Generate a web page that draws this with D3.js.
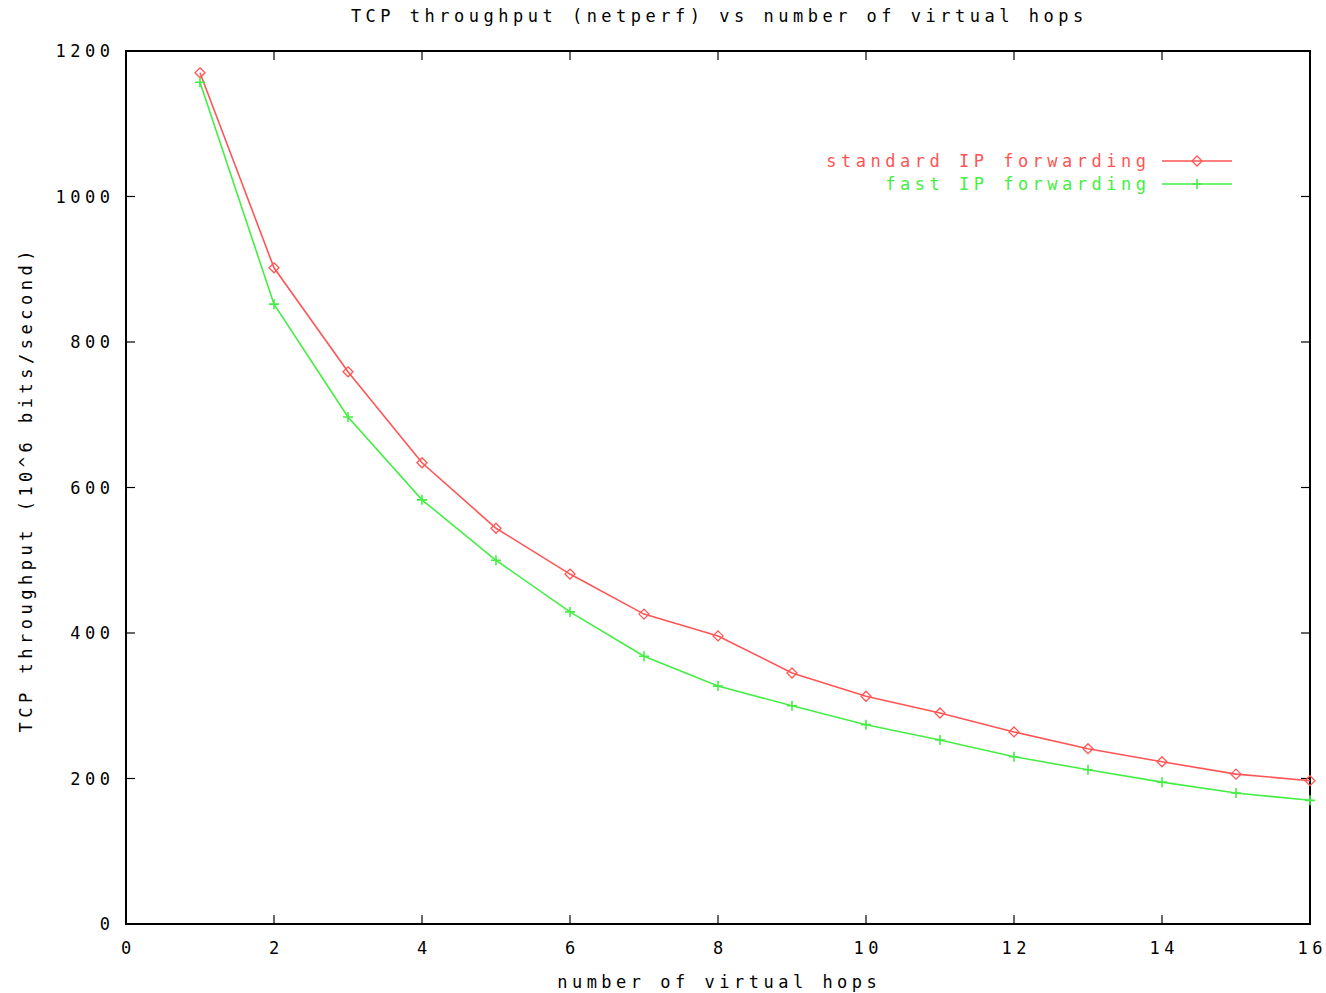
<!DOCTYPE html>
<html>
<head>
<meta charset="utf-8">
<script src="https://cdn.jsdelivr.net/npm/d3@7"></script>
<style>
body { margin: 0; background: #fff; }
text { font-family: "DejaVu Sans Mono", "Liberation Mono", monospace; font-size: 17px; letter-spacing: 4.5px; }
</style>
</head>
<body>
<svg id="chart" width="1326" height="993"></svg>
<script>
var hops = [1, 2, 3, 4, 5, 6, 7, 8, 9, 10, 11, 12, 13, 14, 15, 16];
var standardIP = [1170, 902, 759, 634, 544, 481, 426, 396, 345, 313, 290, 264, 241, 223, 206, 197];
var fastIP = [1157, 852, 697, 583, 500, 429, 368, 327, 300, 274, 253, 230, 212, 195, 180, 170];
var xTicks = [0, 2, 4, 6, 8, 10, 12, 14, 16];
var yTicks = [0, 200, 400, 600, 800, 1000, 1200];

var red = "#ff5555", green = "#44ee44";
var plotL = 126, plotR = 1310, plotT = 51, plotB = 924;
var ls = 4.5;

var svg = d3.select("#chart");
var x = d3.scaleLinear().domain([0, 16]).range([plotL, plotR]);
var y = d3.scaleLinear().domain([0, 1200]).range([plotB, plotT]);

// ticks, inward on all four sides
var tl = 9;
var tickG = svg.append("g").attr("stroke", "#000").attr("stroke-width", 1.2);
xTicks.forEach(function (t) {
	tickG.append("line").attr("x1", x(t)).attr("x2", x(t)).attr("y1", plotB).attr("y2", plotB - tl);
	tickG.append("line").attr("x1", x(t)).attr("x2", x(t)).attr("y1", plotT).attr("y2", plotT + tl);
});
yTicks.forEach(function (t) {
	tickG.append("line").attr("x1", plotL).attr("x2", plotL + tl).attr("y1", y(t)).attr("y2", y(t));
	tickG.append("line").attr("x1", plotR).attr("x2", plotR - tl).attr("y1", y(t)).attr("y2", y(t));
});

svg.append("rect")
	.attr("x", plotL).attr("y", plotT)
	.attr("width", plotR - plotL).attr("height", plotB - plotT)
	.attr("fill", "none").attr("stroke", "#000").attr("stroke-width", 2);

svg.selectAll(".xt").data(xTicks).enter().append("text")
	.attr("x", function (d) { return x(d) + ls / 2; })
	.attr("y", plotB + 30)
	.attr("text-anchor", "middle")
	.text(function (d) { return d; });

svg.selectAll(".yt").data(yTicks).enter().append("text")
	.attr("x", plotL - 16 + ls)
	.attr("y", function (d) { return y(d) + 6; })
	.attr("text-anchor", "end")
	.text(function (d) { return d; });

svg.append("text").attr("x", 717 + ls / 2).attr("y", 22).attr("text-anchor", "middle")
	.text("TCP throughput (netperf) vs number of virtual hops");
svg.append("text").attr("x", 717 + ls / 2).attr("y", 988).attr("text-anchor", "middle")
	.text("number of virtual hops");
svg.append("text").attr("transform", "translate(32," + (487 + ls / 2) + ") rotate(-90)").attr("text-anchor", "middle")
	.text("TCP throughput (10^6 bits/second)");

var line = d3.line()
	.x(function (d) { return x(d[0]); })
	.y(function (d) { return y(d[1]); });

function series(vals, color, marker) {
	var pts = hops.map(function (h, i) { return [h, vals[i]]; });
	svg.append("path").datum(pts).attr("d", line)
		.attr("fill", "none").attr("stroke", color).attr("stroke-width", 1.6);
	pts.forEach(function (p) {
		marker(x(p[0]), y(p[1]), color);
	});
}

function diamond(cx, cy, color) {
	var s = 5;
	svg.append("path")
		.attr("d", "M" + cx + "," + (cy - s) + "L" + (cx + s) + "," + cy + "L" + cx + "," + (cy + s) + "L" + (cx - s) + "," + cy + "Z")
		.attr("fill", "none").attr("stroke", color).attr("stroke-width", 1.3);
}

function plus(cx, cy, color) {
	var s = 5;
	svg.append("path")
		.attr("d", "M" + (cx - s) + "," + cy + "H" + (cx + s) + "M" + cx + "," + (cy - s) + "V" + (cy + s))
		.attr("stroke", color).attr("stroke-width", 1.6);
}

series(standardIP, red, diamond);
series(fastIP, green, plus);

// legend
var legend = [
	{ name: "standard IP forwarding", color: red, marker: diamond, y: 161 },
	{ name: "fast IP forwarding", color: green, marker: plus, y: 184 }
];
legend.forEach(function (l) {
	svg.append("text").attr("x", 1146 + ls).attr("y", l.y + 6).attr("text-anchor", "end")
		.attr("fill", l.color).text(l.name);
	svg.append("line").attr("x1", 1162).attr("x2", 1232).attr("y1", l.y).attr("y2", l.y)
		.attr("stroke", l.color).attr("stroke-width", 1.6);
	l.marker(1197, l.y, l.color);
});
</script>
</body>
</html>
